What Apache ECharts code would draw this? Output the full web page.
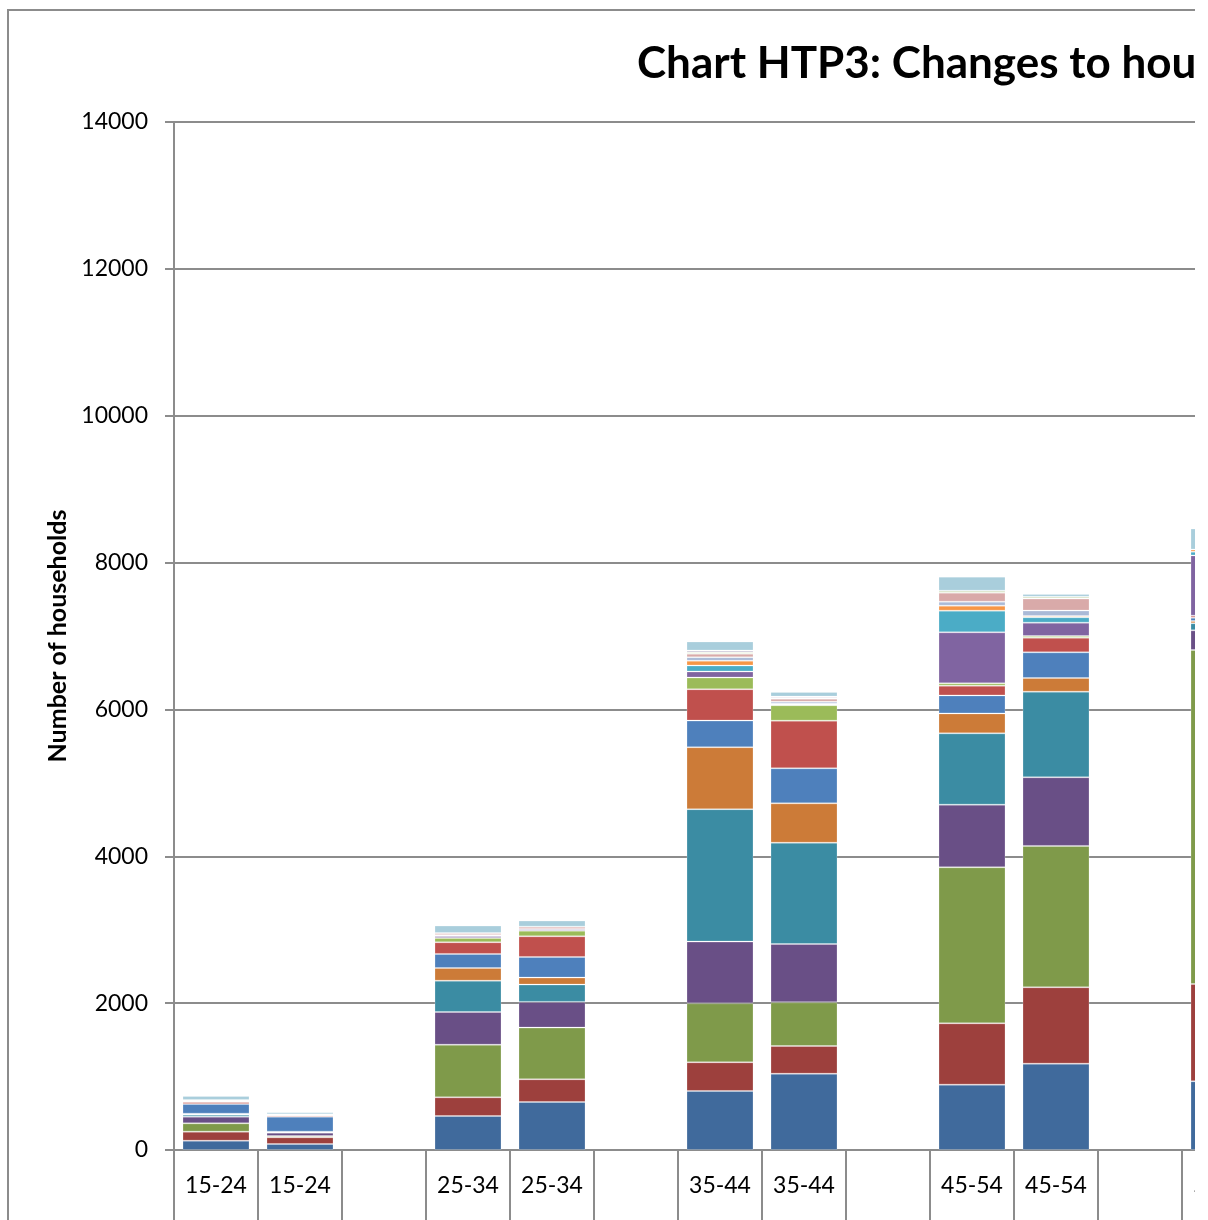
<!DOCTYPE html>
<html>
<head>
<meta charset="utf-8">
<title>Chart HTP3</title>
<script src="https://cdn.jsdelivr.net/npm/echarts@6/dist/echarts.min.js"></script>
<style>
    html, body {
        margin: 0;
        padding: 0;
        background: #fff;
        overflow: hidden;
    }
    .clip {
        width: 1195px;
        height: 1220px;
        overflow: hidden;
    }
    #chart {
        width: 1400px;
        height: 1220px;
    }
</style>
</head>
<body>
<div class="clip">
    <div id="chart"></div>
</div>
<script>
// category slots (blank slots separate the age groups)
const categories = ['15-24', '15-24', '', '25-34', '25-34', '', '35-44', '35-44', '', '45-54', '45-54', '', '55-64'];

const yTicks = { min: 0, max: 14000, interval: 2000 };

// stacked household-type series, bottom to top, one value per slot
const s1 = [127, 82, '-', 463, 654, '-', 804, 1039, '-', 890, 1176, '-', 936];
const s2 = [123, 91, '-', 254, 309, '-', 390, 377, '-', 835, 1040, '-', 1325];
const s3 = [113, 18, '-', 717, 704, '-', 804, 595, '-', 2125, 1925, '-', 4548];
const s4 = [91, 45, '-', 445, 350, '-', 840, 794, '-', 853, 935, '-', 268];
const s5 = [27, 14, '-', 427, 236, '-', 1803, 1380, '-', 971, 1166, '-', 97];
const s6 = [14, 0, '-', 173, 95, '-', 844, 536, '-', 272, 186, '-', 30];
const s7 = [132, 204, '-', 191, 281, '-', 363, 477, '-', 245, 349, '-', 43];
const s8 = [27, 18, '-', 159, 281, '-', 427, 649, '-', 132, 200, '-', 30];
const s9 = [0, 0, '-', 59, 77, '-', 159, 210, '-', 32, 23, '-', 0];
const s10 = [14, 0, '-', 27, 23, '-', 82, 10, '-', 695, 182, '-', 821];
const s11 = [0, 0, '-', 0, 0, '-', 82, 10, '-', 295, 73, '-', 49];
const s12 = [0, 0, '-', 14, 0, '-', 64, 0, '-', 68, 18, '-', 30];
const s13 = [0, 0, '-', 0, 0, '-', 50, 27, '-', 54, 73, '-', 0];
const s14 = [14, 14, '-', 27, 32, '-', 45, 41, '-', 123, 163, '-', 0];
const s15 = [0, 0, '-', 0, 0, '-', 20, 15, '-', 27, 27, '-', 0];
const s16 = [0, 0, '-', 0, 0, '-', 25, 15, '-', 0, 0, '-', 0];
const s17 = [54, 27, '-', 100, 82, '-', 123, 64, '-', 191, 36, '-', 286];

const seriesValues = [s1, s2, s3, s4, s5, s6, s7, s8, s9, s10, s11, s12, s13, s14, s15, s16, s17];

const seriesColors = [
    '#406a9c', '#9d403d', '#7f9a4a', '#694f86', '#3b8ca3', '#cc7b38',
    '#4e80bc', '#c0504d', '#9bbb59', '#8064a1', '#4bacc6', '#f79646',
    '#aabad7', '#d9aaa9', '#c6d6ac', '#bab0c9', '#a9cedc'
];

const fontFamily = 'Lato, "Open Sans", sans-serif';
const gridColor = '#8c8c8c';

const chart = echarts.init(document.getElementById('chart'), null, { renderer: 'canvas' });

const buildSeries = () => seriesValues.map((values, i) => ({
    name: 'Series ' + (i + 1),
    type: 'bar',
    stack: 'households',
    barWidth: 67,
    data: values,
    itemStyle: {
        color: seriesColors[i],
        borderColor: 'rgba(255,255,255,0.22)',
        borderWidth: 1
    },
    emphasis: { disabled: true }
}));

chart.setOption({
    animation: false,
    title: {
        text: 'Chart HTP3: Changes to household types by age group',
        left: 632,
        top: 37,
        textStyle: {
            fontFamily: fontFamily,
            fontSize: 44,
            fontWeight: 'bold',
            color: '#000'
        }
    },
    graphic: [{
        type: 'rect',
        shape: { x: 8, y: 10, width: 2000, height: 2000 },
        style: { fill: 'none', stroke: gridColor, lineWidth: 2 },
        silent: true
    }],
    grid: {
        left: 174,
        right: 134,
        top: 122,
        bottom: 70
    },
    xAxis: {
        type: 'category',
        data: categories,
        axisLine: { lineStyle: { color: gridColor, width: 2 } },
        axisTick: {
            show: true,
            interval: 0,
            length: 72,
            lineStyle: { color: gridColor, width: 2 }
        },
        axisLabel: {
            interval: 0,
            margin: 24,
            fontFamily: fontFamily,
            fontSize: 23,
            color: '#000'
        }
    },
    yAxis: {
        type: 'value',
        min: yTicks.min,
        max: yTicks.max,
        interval: yTicks.interval,
        name: 'Number of households',
        nameLocation: 'middle',
        nameGap: 104,
        nameTextStyle: {
            fontFamily: fontFamily,
            fontSize: 25,
            fontWeight: 'bold',
            color: '#000'
        },
        axisLine: { show: true, lineStyle: { color: gridColor, width: 2 } },
        axisTick: { show: true, length: 9, lineStyle: { color: gridColor, width: 2 } },
        axisLabel: {
            margin: 26,
            fontFamily: fontFamily,
            fontSize: 23,
            color: '#000',
            formatter: (v) => String(v)
        },
        splitLine: { lineStyle: { color: gridColor, width: 2 } }
    },
    series: buildSeries()
});
</script>
</body>
</html>
